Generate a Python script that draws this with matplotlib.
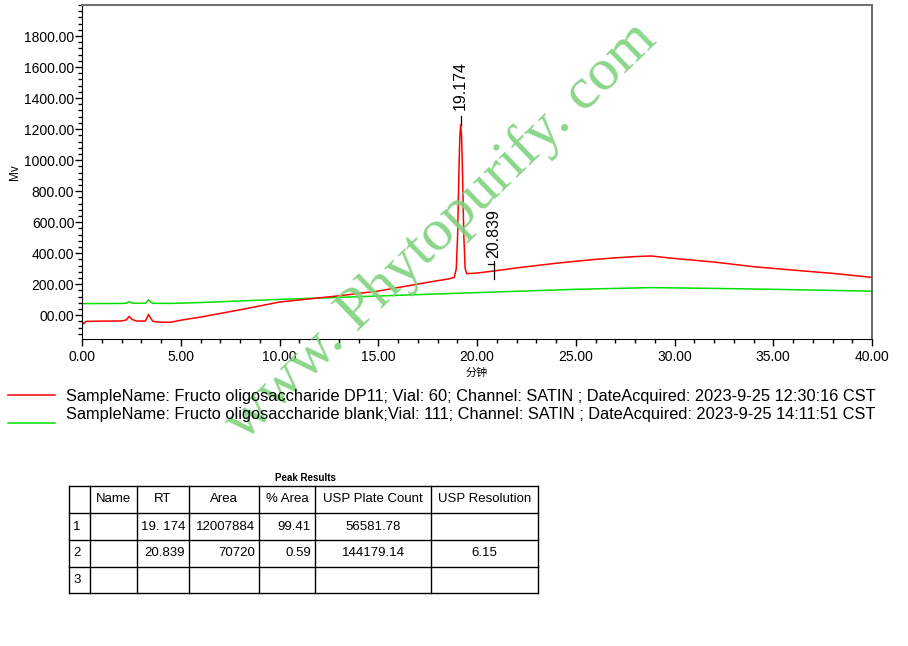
import matplotlib
matplotlib.use("Agg")
import matplotlib.pyplot as plt
from matplotlib.lines import Line2D
from matplotlib.ticker import MultipleLocator

plt.rcParams['font.family'] = ['Liberation Sans', 'Noto Sans CJK SC', 'DejaVu Sans']

# red trace: Fructo oligosaccharide DP11 (time in min, signal in mV)
dp11_t = [0.0, 0.08, 0.2, 1.0, 2.0, 2.25, 2.38, 2.55, 2.75, 3.2, 3.28, 3.36, 3.48,
          3.6, 4.0, 4.5, 5.0, 6.0, 8.0, 10.0, 12.0, 13.0, 15.0, 17.5, 18.6, 18.85,
          18.95, 19.02, 19.08, 19.13, 19.174, 19.22, 19.27, 19.33, 19.4, 19.48, 20.0,
          20.839, 22.0, 24.0, 25.0, 26.0, 27.0, 28.0, 28.8, 30.0, 32.0, 34.0, 36.0, 38.0, 40.0]
dp11_mv = [-40, -55, -40, -38, -37, -30, -8, -28, -37, -38, -20, 5, -20,
           -40, -45, -45, -32, -12, 35, 85, 112, 125, 156, 212, 235, 245,
           300, 520, 900, 1150, 1228, 1150, 900, 520, 300, 268, 272,
           285, 305, 335, 348, 360, 370, 378, 382, 366, 343, 313, 291, 270, 244]

# green trace: blank
blank_t = [0.0, 2.0, 2.25, 2.38, 2.55, 3.2, 3.28, 3.36, 3.48, 3.6, 4.5, 6.0, 10.0,
           15.0, 20.0, 25.0, 28.8, 32.0, 35.0, 38.0, 40.0]
blank_mv = [75, 76, 78, 88, 78, 77, 85, 100, 85, 77, 76, 82, 102,
            124, 146, 167, 178, 173, 167, 160, 155]

# peak annotations
peak_rt = [19.174, 20.839]
peak_top = [1228, 231]
peak_line_top = [1282, 347]
peak_text_y = [1320, 372]

x_ticks = [0, 5, 10, 15, 20, 25, 30, 35, 40]
x_labels = ["0.00", "5.00", "10.00", "15.00", "20.00", "25.00", "30.00", "35.00", "40.00"]
y_ticks = [0, 200, 400, 600, 800, 1000, 1200, 1400, 1600, 1800]
y_labels = ["00.00", "200.00", "400.00", "600.00", "800.00", "1000.00", "1200.00",
            "1400.00", "1600.00", "1800.00"]

legend_texts = [
    "SampleName: Fructo oligosaccharide DP11; Vial: 60; Channel: SATIN ; DateAcquired: 2023-9-25 12:30:16 CST",
    "SampleName: Fructo oligosaccharide blank;Vial: 111; Channel: SATIN ; DateAcquired: 2023-9-25 14:11:51 CST",
]

table_header = ["", "Name", "RT", "Area", "% Area", "USP Plate Count", "USP Resolution"]
table_rows = [
    ["1", "", "19. 174", "12007884", "99.41", "56581.78", ""],
    ["2", "", "20.839", "70720", "0.59", "144179.14", "6.15"],
    ["3", "", "", "", "", "", ""],
]

W, H = 908, 646
fig = plt.figure(figsize=(W / 100, H / 100), dpi=100)
ax = fig.add_axes([82 / W, 1 - 338.5 / H, 790 / W, 333.5 / H])

ax.plot(blank_t, blank_mv, color='#00e000', lw=1.1)
ax.plot(dp11_t, dp11_mv, color='#ff0000', lw=1.1)

for rt, top, lt, ty in zip(peak_rt, peak_top, peak_line_top, peak_text_y):
    ax.plot([rt, rt], [top, lt], color='black', lw=0.9)
    ax.text(rt, ty, f"{rt:.3f}", rotation=90, ha='center', va='bottom', fontsize=11.5)
ax.plot([peak_rt[1] - 0.3, peak_rt[1]], [330, 330], color='black', lw=0.9)

ax.set_xlim(0, 40)
ax.set_ylim(-150, 2000)
ax.set_xticks(x_ticks)
ax.set_xticklabels(x_labels)
ax.set_yticks(y_ticks)
ax.set_yticklabels(y_labels)
ax.xaxis.set_minor_locator(MultipleLocator(1))
ax.yaxis.set_minor_locator(MultipleLocator(40))
ax.tick_params(which='major', length=5, width=1, labelsize=10)
ax.tick_params(axis='y', which='major', pad=0.5)
ax.tick_params(axis='x', which='major', pad=3)
ax.tick_params(which='minor', length=3, width=1)
ax.spines['top'].set_color('#707070')
ax.spines['right'].set_color('#505050')
ax.spines['top'].set_linewidth(1.5)
ax.spines['right'].set_linewidth(1.2)
ax.set_xlabel("分钟", fontsize=8, labelpad=3)
ax.set_ylabel("Mv", fontsize=8.5, labelpad=2)

# overlay in pixel coordinates for watermark, legend and table
ov = fig.add_axes([0, 0, 1, 1], facecolor='none')
ov.set_xlim(0, W)
ov.set_ylim(H, 0)
ov.axis('off')

ov.text(441, 231, "www. Phytopurify. com", fontsize=43.5, family='Liberation Serif',
        color='#7fd27f', alpha=0.9, rotation=44, ha='center', va='center',
        rotation_mode='anchor')

ov.add_line(Line2D([8, 55], [395, 395], color='#ff0000', lw=1.1))
ov.add_line(Line2D([8, 55], [423, 423], color='#00e000', lw=1.1))
ov.text(66, 396, legend_texts[0], fontsize=11.8, va='center', ha='left')
ov.text(66, 414, legend_texts[1], fontsize=11.8, va='center', ha='left')

# peak results table
col_x = [69, 90, 137, 189, 259, 315, 431, 538]
row_y = [486, 513, 540, 567, 593]
ov.text(305, 478, "Peak Results", fontsize=7, fontweight='bold', ha='center', va='center')
for x in col_x:
    ov.add_line(Line2D([x, x], [row_y[0], row_y[-1]], color='black', lw=1))
for y in row_y:
    ov.add_line(Line2D([col_x[0], col_x[-1]], [y, y], color='black', lw=1))
# alignment per column: header centred, body by column
body_align = ['left', 'center', 'right', 'right', 'right', 'center', 'center']
for j, h in enumerate(table_header):
    cx = (col_x[j] + col_x[j + 1]) / 2
    ov.text(cx, (row_y[0] + row_y[1]) / 2, h, fontsize=9.5, ha='center', va='center')
for i, row in enumerate(table_rows):
    cy = (row_y[i + 1] + row_y[i + 2]) / 2
    for j, val in enumerate(row):
        a = body_align[j]
        if a == 'left':
            x = col_x[j] + 4
        elif a == 'right':
            x = col_x[j + 1] - 4
        else:
            x = (col_x[j] + col_x[j + 1]) / 2
        ov.text(x, cy, val, fontsize=9.5, ha=a, va='center')

fig.savefig("out.png", dpi=100)
